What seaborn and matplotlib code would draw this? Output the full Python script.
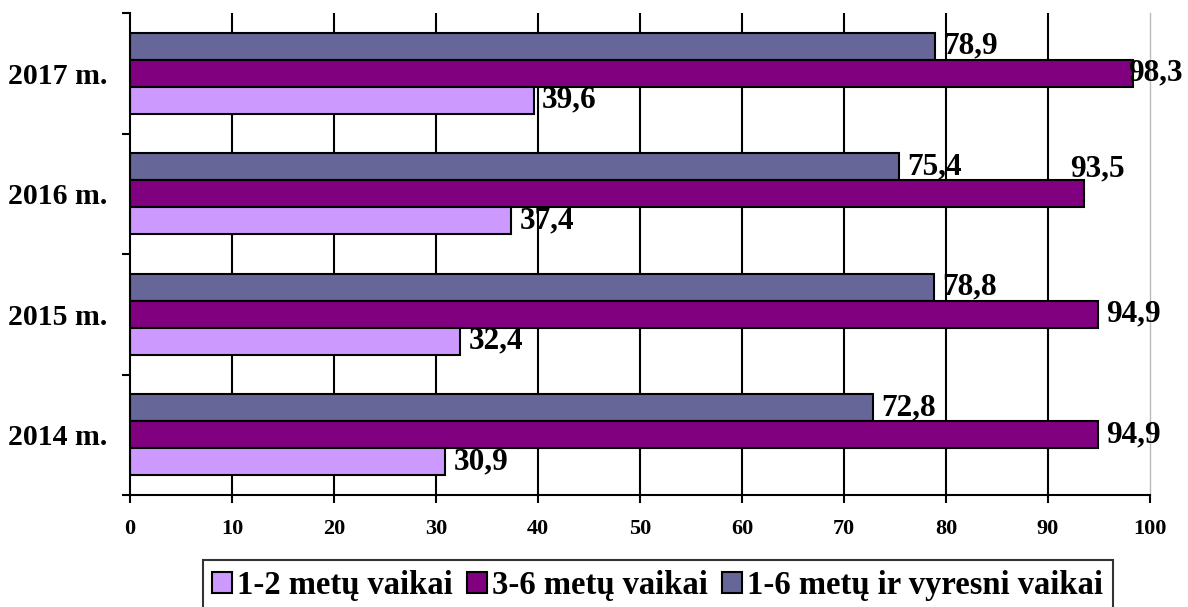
import pandas as pd
import matplotlib.pyplot as plt
import seaborn as sns
from matplotlib.patches import Patch

# duomenys (nuo viršaus į apačią)
metai = ["2017 m.", "2016 m.", "2015 m.", "2014 m."]
vaikai_1_2 = [39.6, 37.4, 32.4, 30.9]
vaikai_3_6 = [98.3, 93.5, 94.9, 94.9]
vaikai_1_6 = [78.9, 75.4, 78.8, 72.8]
serijos = ["1-2 metų vaikai", "3-6 metų vaikai", "1-6 metų ir vyresni vaikai"]
spalvos = ["#CC99FF", "#800080", "#666699"]
x_ticks = list(range(0, 101, 10))

reiksmes = {serijos[0]: vaikai_1_2, serijos[1]: vaikai_3_6, serijos[2]: vaikai_1_6}
df = pd.DataFrame({
    "metai": metai * 3,
    "reiksme": vaikai_1_2 + vaikai_3_6 + vaikai_1_6,
    "serija": [s for s in serijos for _ in metai],
})

sns.set_style("white")
plt.rcParams["font.family"] = ["Liberation Serif", "DejaVu Serif"]
plt.rcParams["font.weight"] = "bold"
plt.rcParams["text.color"] = "black"
plt.rcParams["xtick.color"] = "black"
plt.rcParams["ytick.color"] = "black"

fig = plt.figure(figsize=(11.88, 6.07), dpi=100)
ax = fig.add_axes([0.1094, 0.1845, 0.8586, 0.794])

tvarka = serijos[::-1]
sns.barplot(data=df, y="metai", x="reiksme", hue="serija", order=metai,
            hue_order=tvarka, palette=dict(zip(serijos, spalvos)), orient="h",
            width=0.675, saturation=1, edgecolor="black", linewidth=1.5,
            legend=False, ax=ax)

# etikečių pataisos (taškais), kaip originale
pataisos = {(serijos[1], "2016 m."): (-10, 18), (serijos[1], "2017 m."): (-3, 0)}

for cont, s in zip(ax.containers, tvarka):
    labels = [f"{v:.1f}".replace(".", ",") for v in reiksmes[s]]
    texts = ax.bar_label(cont, labels=labels, padding=6, fontsize=22.5,
                         fontweight="bold", color="black")
    for t, m in zip(texts, metai):
        if (s, m) in pataisos:
            t.xyann = pataisos[(s, m)]

ax.set_xlim(0, 100)
ax.set_xticks(x_ticks)
ax.set_xticklabels([str(v) for v in x_ticks], fontsize=16, fontweight="bold")
ax.set_yticks(range(len(metai)))
ax.set_yticklabels(metai, fontsize=21.5, fontweight="bold")
ax.set_yticks([i - 0.5 for i in range(len(metai) + 1)], minor=True)
ax.tick_params(axis="y", which="major", length=0, pad=16)
ax.tick_params(axis="y", which="minor", length=6, width=1.5, color="black", left=True)
ax.tick_params(axis="x", length=6, width=1.5, color="black", bottom=True, pad=11)
ax.set_xlabel("")
ax.set_ylabel("")

ax.set_axisbelow(True)
ax.xaxis.grid(True, color="black", linewidth=1.5)
ax.get_xgridlines()[-1].set_visible(False)
ax.get_xgridlines()[0].set_visible(False)

for side in ["left", "bottom"]:
    ax.spines[side].set_color("black")
    ax.spines[side].set_linewidth(1.5)
ax.spines["top"].set_visible(False)
ax.spines["right"].set_color("#BBBBBB")
ax.spines["right"].set_linewidth(1)

handles = [Patch(facecolor=c, edgecolor="black", linewidth=1.5) for c in spalvos]
leg = fig.legend(handles, serijos, loc="upper center", bbox_to_anchor=(0.5535, 0.0774),
                 ncol=3, frameon=True, fancybox=False, edgecolor="black",
                 prop={"size": 23.5, "weight": "bold"}, handlelength=0.6,
                 handleheight=0.6, handletextpad=0.15, columnspacing=0.45,
                 borderpad=0.3, borderaxespad=0.0)
leg.get_frame().set_linewidth(1.5)

fig.savefig("out.png", dpi=100)
